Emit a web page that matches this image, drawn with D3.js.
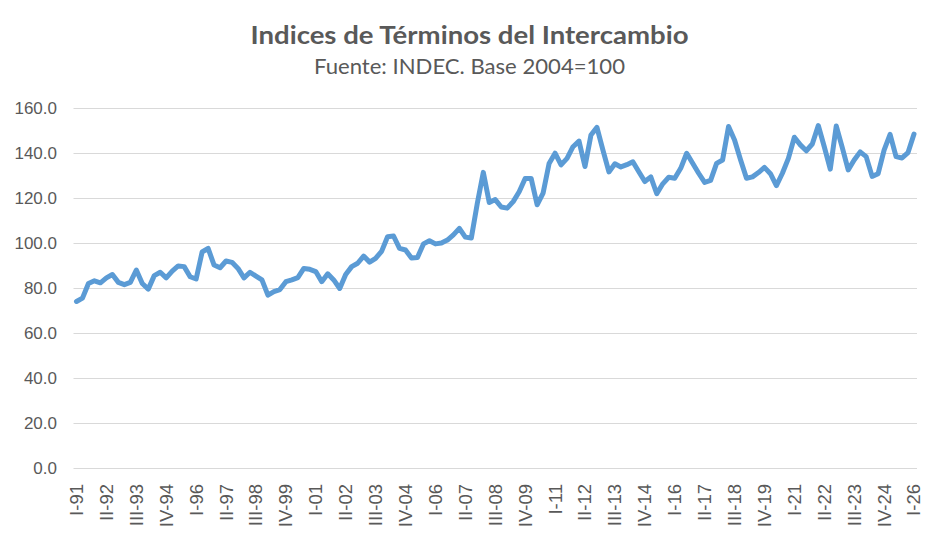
<!DOCTYPE html>
<html>
<head>
<meta charset="utf-8">
<script src="https://cdn.jsdelivr.net/npm/d3@7"></script>
<style>
  body { margin: 0; background: #ffffff; }
  #chart { width: 939px; height: 551px; }
  .axis-text { font-family: "Liberation Sans", Arial, sans-serif; font-size: 17px; fill: #595959; }
  .axis-text-x { font-family: "Liberation Sans", Arial, sans-serif; font-size: 18.5px; fill: #595959; }
  .grid line { stroke: #d9d9d9; stroke-width: 1; }
  .grid path { display: none; }
</style>
</head>
<body>
<div id="chart"></div>
<script>
// data: quarterly terms of trade index (2004=100), I-91 .. I-26
const quarterNames = ['I', 'II', 'III', 'IV'];
const firstYear = 1991;
const lastYear = 2026;

const tickLabels = [
  'I-91', 'II-92', 'III-93', 'IV-94', 'I-96', 'II-97', 'III-98', 'IV-99',
  'I-01', 'II-02', 'III-03', 'IV-04', 'I-06', 'II-07', 'III-08', 'IV-09',
  'I-11', 'II-12', 'III-13', 'IV-14', 'I-16', 'II-17', 'III-18', 'IV-19',
  'I-21', 'II-22', 'III-23', 'IV-24', 'I-26'
];

const yTicks = [0, 20, 40, 60, 80, 100, 120, 140, 160];

const indexValues = [
  74.0, 75.5, 82.0, 83.2, 82.3, 84.5, 86.0, 82.5, 81.5, 82.5,
  88.0, 82.0, 79.5, 85.5, 87.0, 84.5, 87.5, 89.8, 89.5, 85.0,
  84.0, 96.0, 97.6, 90.2, 89.0, 92.0, 91.4, 88.7, 84.5, 87.0,
  85.3, 83.6, 76.8, 78.4, 79.3, 82.8, 83.6, 84.6, 88.7, 88.3,
  87.3, 82.8, 86.3, 83.6, 79.8, 86.0, 89.5, 91.0, 94.2, 91.5,
  93.2, 96.3, 102.8, 103.1, 97.6, 96.9, 93.3, 93.6, 99.6, 101.0,
  99.6, 100.0, 101.3, 103.6, 106.5, 102.6, 102.2, 117.6, 131.4, 118.0,
  119.3, 116.0, 115.5, 118.4, 122.8, 128.7, 128.7, 117.0, 122.2, 135.3,
  139.9, 134.7, 137.6, 142.8, 145.3, 134.0, 148.0, 151.4, 141.3, 131.6,
  135.2, 133.8, 134.8, 136.1, 131.7, 127.3, 129.4, 121.9, 126.3, 129.2,
  128.8, 133.2, 139.9, 135.4, 131.0, 126.9, 127.8, 135.4, 136.9, 151.8,
  145.8, 137.0, 128.8, 129.4, 131.3, 133.6, 130.8, 125.5, 131.0, 137.6,
  147.0, 143.6, 141.0, 144.0, 152.2, 142.8, 132.8, 152.0, 142.5, 132.5,
  136.9, 140.5, 138.4, 129.6, 130.8, 141.3, 148.3, 138.4, 137.8, 140.2,
  148.4
];

// build quarter labels like "III-98"
const categories = [];
for (let y = firstYear; y <= lastYear; y++) {
  quarterNames.forEach(q => categories.push(q + '-' + String(y).slice(2)));
}
const data = indexValues.map((v, i) => ({ quarter: categories[i], value: v }));

// Width and Height of the box
const initial_width = 939;
const initial_height = 551;

// set the dimensions and margins of the graph
const margin = {top: 108, right: 22, bottom: 83, left: 73.5},
    width = initial_width - margin.left - margin.right,
    height = initial_height - margin.top - margin.bottom;

const svgRoot = d3.select('#chart')
  .append('svg')
    .attr('width', initial_width)
    .attr('height', initial_height);

const svg = svgRoot.append('g')
    .attr('transform', 'translate(' + margin.left + ',' + margin.top + ')');

// titles (widths stretched a bit to match the original font)
svgRoot.append('text')
  .attr('x', initial_width / 2)
  .attr('y', 43.5)
  .attr('text-anchor', 'middle')
  .attr('textLength', 438)
  .attr('lengthAdjust', 'spacingAndGlyphs')
  .style('font-family', 'Lato, "Open Sans", sans-serif')
  .style('font-weight', 'bold')
  .style('font-size', '25px')
  .style('fill', '#595959')
  .text('Indices de Términos del Intercambio');

svgRoot.append('text')
  .attr('x', initial_width / 2)
  .attr('y', 73.5)
  .attr('text-anchor', 'middle')
  .attr('textLength', 311)
  .attr('lengthAdjust', 'spacingAndGlyphs')
  .style('font-family', 'Lato, "Open Sans", sans-serif')
  .style('font-size', '21px')
  .style('fill', '#595959')
  .text('Fuente: INDEC. Base 2004=100');

// scales
const xScale = d3.scaleBand()
  .domain(categories.slice(0, indexValues.length))
  .range([0, width]);

const yScale = d3.scaleLinear()
  .domain([0, 160])
  .range([height, 0]);

// grid
svg.append('g')
  .attr('class', 'grid')
  .call(d3.axisLeft(yScale)
    .tickValues(yTicks)
    .tickSize(-width)
    .tickFormat(''));

// y axis labels
const yAxis = svg.append('g')
  .call(d3.axisLeft(yScale).tickValues(yTicks).tickSize(0).tickPadding(16.5).tickFormat(d3.format('.1f')));
yAxis.select('.domain').remove();
yAxis.selectAll('text').attr('class', 'axis-text');

// x axis labels, rotated
const xAxis = svg.append('g')
  .attr('transform', 'translate(0,' + height + ')')
  .call(d3.axisBottom(xScale).tickValues(tickLabels).tickSize(0));
xAxis.select('.domain').remove();
xAxis.selectAll('text')
  .attr('class', 'axis-text-x')
  .attr('text-anchor', 'end')
  .attr('transform', 'rotate(-90)')
  .attr('x', -16)
  .attr('y', 0)
  .attr('dy', '0.35em');

// line
const line = d3.line()
  .x(d => xScale(d.quarter) + xScale.bandwidth() / 2)
  .y(d => yScale(d.value));

svg.append('path')
  .datum(data)
  .attr('fill', 'none')
  .attr('stroke', '#5b9bd5')
  .attr('stroke-width', 5)
  .attr('stroke-linejoin', 'round')
  .attr('stroke-linecap', 'round')
  .attr('d', line);
</script>
</body>
</html>
